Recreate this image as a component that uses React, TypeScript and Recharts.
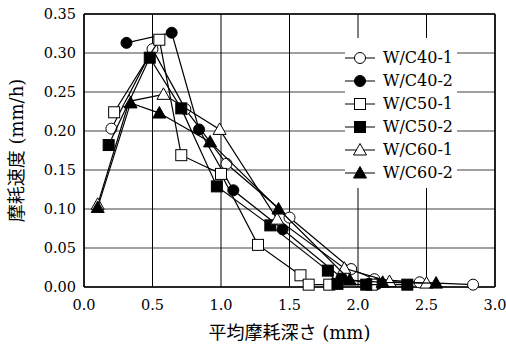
import React from 'react';
import {
  ScatterChart,
  Scatter,
  XAxis,
  YAxis,
  CartesianGrid,
  ReferenceLine,
  Label
} from 'recharts';

const seriesNames = ['W/C40-1', 'W/C40-2', 'W/C50-1', 'W/C50-2', 'W/C60-1', 'W/C60-2'];

const wc40_1 = [
  { x: 0.2, y: 0.203 }, { x: 0.5, y: 0.305 }, { x: 0.74, y: 0.228 }, { x: 1.04, y: 0.158 },
  { x: 1.5, y: 0.089 }, { x: 1.95, y: 0.023 }, { x: 2.12, y: 0.01 }, { x: 2.45, y: 0.006 },
  { x: 2.84, y: 0.003 }
];
const wc40_2 = [
  { x: 0.31, y: 0.313 }, { x: 0.64, y: 0.326 }, { x: 0.84, y: 0.202 }, { x: 1.09, y: 0.124 },
  { x: 1.45, y: 0.074 }, { x: 1.88, y: 0.012 }, { x: 2.08, y: 0.004 }, { x: 2.14, y: 0.004 }
];
const wc50_1 = [
  { x: 0.22, y: 0.224 }, { x: 0.55, y: 0.317 }, { x: 0.71, y: 0.169 }, { x: 1.0, y: 0.145 },
  { x: 1.27, y: 0.054 }, { x: 1.58, y: 0.015 }, { x: 1.64, y: 0.003 }, { x: 1.79, y: 0.003 },
  { x: 2.1, y: 0.003 }
];
const wc50_2 = [
  { x: 0.18, y: 0.182 }, { x: 0.48, y: 0.294 }, { x: 0.71, y: 0.229 }, { x: 0.97, y: 0.129 },
  { x: 1.36, y: 0.079 }, { x: 1.78, y: 0.021 }, { x: 1.85, y: 0.004 }, { x: 2.06, y: 0.003 },
  { x: 2.36, y: 0.003 }
];
const wc60_1 = [
  { x: 0.1, y: 0.106 }, { x: 0.33, y: 0.238 }, { x: 0.58, y: 0.247 }, { x: 0.99, y: 0.202 },
  { x: 1.41, y: 0.087 }, { x: 1.9, y: 0.024 }, { x: 2.23, y: 0.007 }, { x: 2.5, y: 0.005 }
];
const wc60_2 = [
  { x: 0.1, y: 0.102 }, { x: 0.34, y: 0.236 }, { x: 0.55, y: 0.223 }, { x: 0.92, y: 0.186 },
  { x: 1.42, y: 0.1 }, { x: 1.94, y: 0.009 }, { x: 2.18, y: 0.006 }, { x: 2.57, y: 0.005 }
];

const xTicks = [0, 0.5, 1.0, 1.5, 2.0, 2.5, 3.0];
const yTicks = [0, 0.05, 0.1, 0.15, 0.2, 0.25, 0.3, 0.35];

const SERIF = 'DejaVu Serif';
const LABEL_FONT = 'DejaVu Serif, Noto Sans CJK JP';

type Kind = 'circle' | 'square' | 'triangle';

const Marker = ({ cx, cy, kind, filled }: { cx: number; cy: number; kind: Kind; filled: boolean }) => {
  const fill = filled ? '#000' : '#fff';
  if (kind === 'circle') return <circle cx={cx} cy={cy} r={5.5} fill={fill} stroke="#000" strokeWidth={1} />;
  if (kind === 'square') return <rect x={cx - 5.5} y={cy - 5.5} width={11} height={11} fill={fill} stroke="#000" strokeWidth={1} />;
  return <polygon points={`${cx},${cy - 6.5} ${cx + 6.5},${cy + 5} ${cx - 6.5},${cy + 5}`} fill={fill} stroke="#000" strokeWidth={1} />;
};

const series = [
  { name: seriesNames[0], data: wc40_1, kind: 'circle' as Kind, filled: false },
  { name: seriesNames[1], data: wc40_2, kind: 'circle' as Kind, filled: true },
  { name: seriesNames[2], data: wc50_1, kind: 'square' as Kind, filled: false },
  { name: seriesNames[3], data: wc50_2, kind: 'square' as Kind, filled: true },
  { name: seriesNames[4], data: wc60_1, kind: 'triangle' as Kind, filled: false },
  { name: seriesNames[5], data: wc60_2, kind: 'triangle' as Kind, filled: true }
];

const LegendBox = () => (
  <div style={{ position: 'absolute', left: 345, top: 38, background: '#fff', width: 112, height: 150, paddingTop: 8, boxSizing: 'border-box' }}>
    {series.map((s) => (
      <div key={s.name} style={{ display: 'flex', alignItems: 'center', height: 23 }}>
        <svg width={38} height={20} style={{ flexShrink: 0 }}>
          <line x1={0} y1={10} x2={30} y2={10} stroke="#000" strokeWidth={1} />
          <Marker cx={15} cy={10} kind={s.kind} filled={s.filled} />
        </svg>
        <span style={{ fontSize: 16, lineHeight: '20px', fontFamily: SERIF, whiteSpace: 'nowrap' }}>{s.name}</span>
      </div>
    ))}
  </div>
);

export default function App() {
  return (
    <div style={{ position: 'absolute', left: 0, top: 0, width: 506, height: 349, background: '#fff', fontFamily: SERIF }}>
      <ScatterChart width={506} height={349} margin={{ top: 14, right: 11, bottom: 0, left: 0 }}>
        <CartesianGrid horizontal={true} vertical={false} stroke="#808080" strokeWidth={1.5} />
        <CartesianGrid horizontal={false} vertical={true} stroke="#000" strokeWidth={1} />
        <XAxis
          type="number"
          dataKey="x"
          domain={[0, 3]}
          ticks={xTicks}
          interval={0}
          tickFormatter={(v: number) => v.toFixed(1)}
          tickLine={false}
          tickMargin={7}
          axisLine={{ stroke: '#000', strokeWidth: 1.5 }}
          tick={{ fill: '#000', fontSize: 14.5, fontFamily: SERIF }}
          height={62}
        >
          <Label
            content={({ viewBox }: any) => (
              <text x={viewBox.x + viewBox.width / 2} y={339} textAnchor="middle" fill="#000" fontSize={18} style={{ fontFamily: LABEL_FONT }}>
                平均摩耗深さ (mm)
              </text>
            )}
          />
        </XAxis>
        <YAxis
          type="number"
          dataKey="y"
          domain={[0, 0.35]}
          ticks={yTicks}
          interval={0}
          tickFormatter={(v: number) => v.toFixed(2)}
          tickLine={false}
          axisLine={{ stroke: '#000', strokeWidth: 1.5 }}
          tick={{ fill: '#000', fontSize: 14.5, fontFamily: SERIF }}
          width={84}
        >
          <Label
            content={({ viewBox }: any) => {
              const cy = viewBox.y + viewBox.height / 2;
              return (
                <text x={23} y={cy} transform={`rotate(-90 23 ${cy})`} textAnchor="middle" fill="#000" fontSize={18} style={{ fontFamily: LABEL_FONT }}>
                  摩耗速度 (mm/h)
                </text>
              );
            }}
          />
        </YAxis>
        <ReferenceLine y={0.35} stroke="#000" strokeWidth={1.5} />
        <ReferenceLine x={3} stroke="#000" strokeWidth={1.5} />
        {series.map((s) => (
          <Scatter
            key={s.name}
            name={s.name}
            data={s.data}
            line={{ stroke: '#000', strokeWidth: 1.2 }}
            lineType="joint"
            isAnimationActive={false}
            shape={(p: any) => <Marker cx={p.cx} cy={p.cy} kind={s.kind} filled={s.filled} />}
          />
        ))}
      </ScatterChart>
      <LegendBox />
    </div>
  );
}
